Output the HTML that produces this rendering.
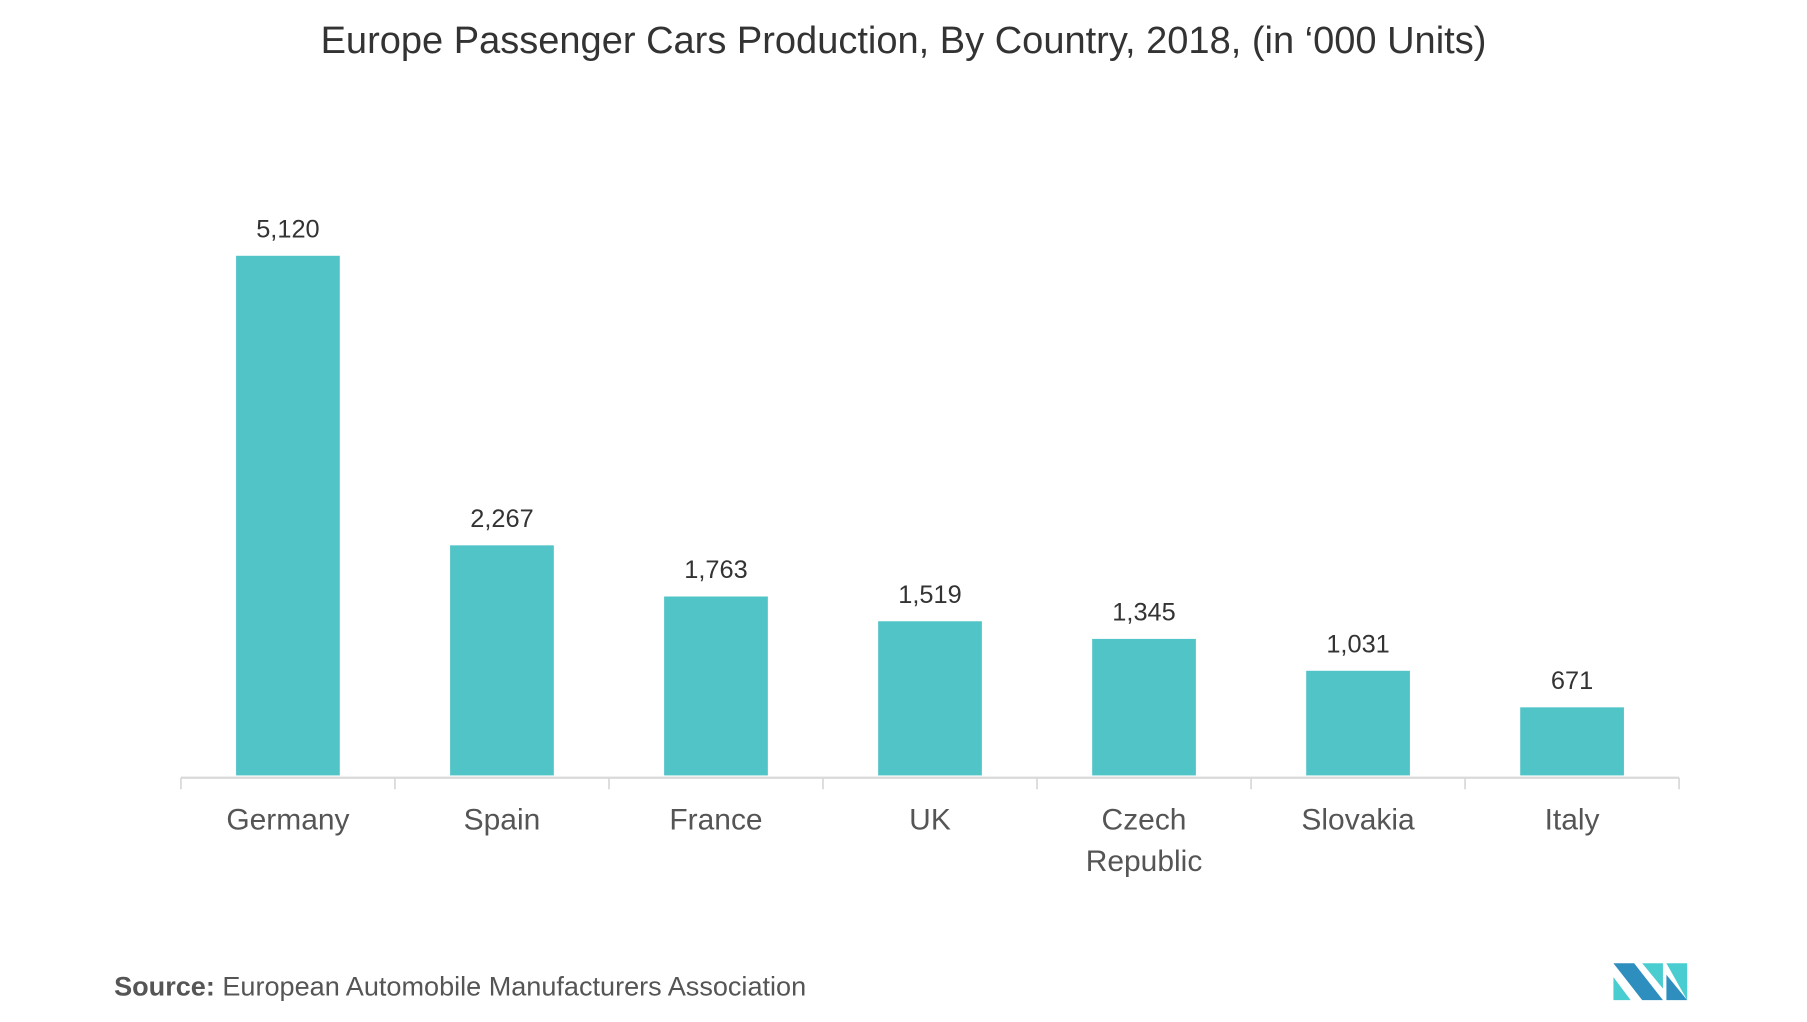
<!DOCTYPE html>
<html><head><meta charset="utf-8"><style>
html,body{margin:0;padding:0;background:#fff;}
svg{display:block;font-family:"Liberation Sans",sans-serif;}
</style></head><body>
<svg id="chart" width="1807" height="1022" viewBox="0 0 1568 887" preserveAspectRatio="none">
<text x="784" y="46" text-anchor="middle" font-size="33" fill="#333">Europe Passenger Cars Production, By Country, 2018, (in ‘000 Units)</text>
<g id="bars"></g>
<line x1="157" y1="675" x2="1457" y2="675" stroke="#d9d9d9" stroke-width="2"/>
<g id="ticks"></g>
<text x="99" y="864" font-size="23.5" fill="#555"><tspan font-weight="bold">Source:</tspan> European Automobile Manufacturers Association</text>
<g>
<polygon points="1400,836 1418,836 1443,868 1425,868" fill="#2e8fbf"/>
<polygon points="1400,848 1415,868 1400,868" fill="#4acdd0"/>
<polygon points="1425,836 1443,836 1443,858" fill="#4acdd0"/>
<polygon points="1446,836 1464,836 1464,868" fill="#4acdd0"/>
<polygon points="1446,846 1464,868 1446,868" fill="#2e8fbf"/>
</g>
</svg>
<script>
const categories=["Germany","Spain","France","UK","Czech Republic","Slovakia","Italy"];
const values=[5120,2267,1763,1519,1345,1031,671];
const valueLabels=["5,120","2,267","1,763","1,519","1,345","1,031","671"];
const NS="http://www.w3.org/2000/svg";
const left=157,right=1457,base=673,topY=222,maxV=5120;
const step=(right-left)/categories.length;
const x=i=>left+step*(i+0.5);
const y=v=>base-(v/maxV)*(base-topY);
const bars=document.getElementById('bars'),ticks=document.getElementById('ticks');
function mk(tag,attrs,parent){const e=document.createElementNS(NS,tag);for(const k in attrs)e.setAttribute(k,attrs[k]);parent.appendChild(e);return e;}
values.forEach((v,i)=>{
  const r=mk('rect',{x:x(i)-45,y:y(v),width:90,height:base-y(v),fill:'#51c4c7'},bars);
  
  
  const t=mk('text',{x:x(i),y:y(v)-16,'text-anchor':'middle','font-size':'22',fill:'#333'},bars);
  t.textContent=valueLabels[i];
  
  
  const words=categories[i].split(' ');
  const c=mk('text',{x:x(i),y:720,'text-anchor':'middle','font-size':'26',fill:'#555'},bars);
  
  
  words.forEach((w,j)=>{const s=mk('tspan',{x:x(i),dy:j?36:0},c);s.textContent=w;});
});
for(let i=0;i<=categories.length;i++){
  const l=mk('line',{x1:left+step*i,x2:left+step*i,y1:675,y2:685,stroke:'#d9d9d9','stroke-width':1.5},ticks);
  
  
}
</script>
</body></html>
